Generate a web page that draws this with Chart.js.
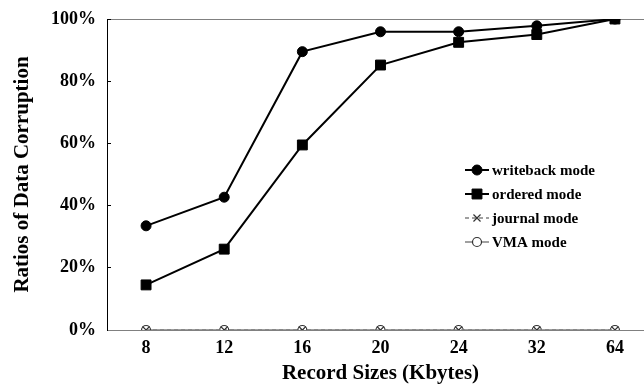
<!DOCTYPE html>
<html>
<head>
<meta charset="utf-8">
<script src="https://cdn.jsdelivr.net/npm/chart.js@4.4.1/dist/chart.umd.min.js"></script>
<style>
  html,body{margin:0;padding:0;background:#fff;overflow:hidden;}
  #wrap{width:660px;height:388px;}
</style>
</head>
<body>
<div id="wrap"><canvas id="c" width="660" height="388"></canvas></div>
<script>
/* ── DATA ── */
const recordSizes = ['8','12','16','20','24','32','64'];
const writebackMode = [33.5, 42.7, 89.5, 95.9, 95.9, 97.8, 100];
const orderedMode   = [14.5, 26.0, 59.5, 85.2, 92.5, 95.0, 100];
const journalMode   = [0, 0, 0, 0, 0, 0, 0];
const vmaMode       = [0, 0, 0, 0, 0, 0, 0];
const yTicks = [0, 20, 40, 60, 80, 100];

const SERIF = "'Liberation Serif','Times New Roman',serif";
const GRAY = '#808080';

/* ── LEGEND (line + marker, like the original) ── */
const lineLegend = {
  id:'lineLegend',
  afterDraw(chart){
    const ctx = chart.ctx;
    const x0 = 465, x1 = 489, xm = 477, xt = 492;
    const rows = [170, 194, 218, 242];
    chart.data.datasets.forEach((ds, i)=>{
      const y = rows[i];
      ctx.save();
      ctx.strokeStyle = ds.borderColor;
      ctx.lineWidth = ds.borderWidth;
      ctx.setLineDash(ds.borderDash || []);
      ctx.beginPath(); ctx.moveTo(x0, y); ctx.lineTo(x1, y); ctx.stroke();
      ctx.setLineDash([]);
      ctx.fillStyle = ds.pointBackgroundColor;
      ctx.strokeStyle = ds.pointBorderColor;
      ctx.lineWidth = ds.pointBorderWidth;
      Chart.helpers.drawPoint(ctx, {
        pointStyle: ds.pointStyle, radius: ds.pointRadius, borderWidth: ds.pointBorderWidth
      }, xm, y);
      ctx.fillStyle = '#000';
      ctx.font = 'bold 15px ' + SERIF;
      ctx.textBaseline = 'middle';
      ctx.textAlign = 'left';
      ctx.fillText(ds.label, xt, y + 1);
      ctx.restore();
    });
  }
};

// keep the plot box fixed: no extra room for overhanging tick labels
function noOverhang(s){
  s.paddingTop = 0; s.paddingBottom = 0; s.paddingLeft = 0; s.paddingRight = 0;
}

new Chart(document.getElementById('c'), {
  type:'line',
  data:{
    labels: recordSizes,
    datasets:[{
      label:'writeback mode', data: writebackMode,
      borderColor:'#000', borderWidth:2,
      pointStyle:'circle', pointRadius:5, pointBorderWidth:1,
      pointBackgroundColor:'#000', pointBorderColor:'#000'
    },{
      label:'ordered mode', data: orderedMode,
      borderColor:'#000', borderWidth:2,
      pointStyle:'rect', pointRadius:7, pointBorderWidth:1,
      pointBackgroundColor:'#000', pointBorderColor:'#000'
    },{
      label:'journal mode', data: journalMode,
      borderColor:GRAY, borderWidth:1.5, borderDash:[4,3],
      pointStyle:'crossRot', pointRadius:5, pointBorderWidth:1.2,
      pointBackgroundColor:'#333', pointBorderColor:'#333'
    },{
      label:'VMA mode', data: vmaMode,
      borderColor:GRAY, borderWidth:1.5,
      pointStyle:'circle', pointRadius:4.5, pointBorderWidth:1.2,
      pointBackgroundColor:'#fff', pointBorderColor:'#333'
    }]
  },
  options:{
    responsive:false, animation:false, devicePixelRatio:1,
    layout:{autoPadding:false, padding:{top:19, right:6, left:0, bottom:0}},
    plugins:{legend:{display:false}, tooltip:{enabled:false}},
    elements:{line:{tension:0}},
    scales:{
      x:{
        offset:true,
        grid:{display:false},
        border:{display:true, color:GRAY, width:1},
        ticks:{color:'#000', font:{family:SERIF, size:18, weight:'bold'}, padding:0, maxRotation:0},
        title:{display:true, text:'Record Sizes (Kbytes)', color:'#000',
               font:{family:SERIF, size:21, weight:'bold'}, padding:{top:0,bottom:1.5}},
        afterFit(s){ s.height = 58; noOverhang(s); }
      },
      y:{
        min:0, max:100,
        afterBuildTicks(s){ s.ticks = yTicks.map(v=>({value:v})); },
        grid:{
          drawOnChartArea:true, drawTicks:true, tickLength:-4, tickColor:'#000',
          color:c=> (c.tick && c.tick.value===100) ? GRAY : 'rgba(0,0,0,0)'
        },
        border:{display:true, color:'#000', width:1},
        ticks:{color:'#000', font:{family:SERIF, size:18, weight:'bold'}, padding:15,
               callback:v=>v+'%'},
        title:{display:true, text:'Ratios of Data Corruption', color:'#000',
               font:{family:SERIF, size:21, weight:'bold'}, padding:{top:10,bottom:0}},
        afterFit(s){ s.width = 107; noOverhang(s); }
      }
    }
  },
  plugins:[lineLegend]
});
</script>
</body>
</html>
